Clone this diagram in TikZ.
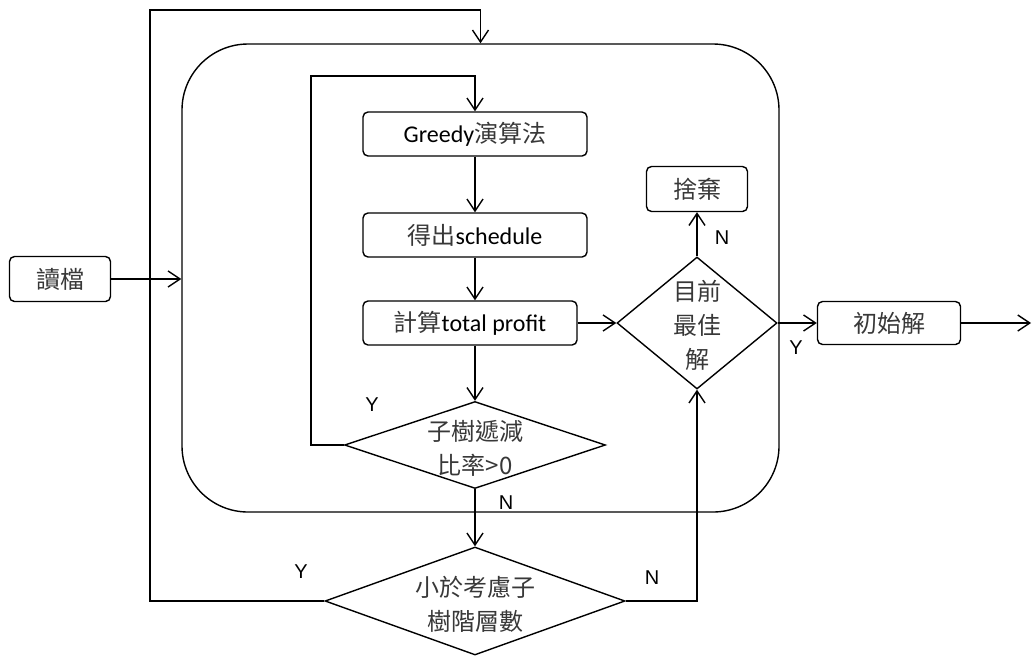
\documentclass[tikz,border=0pt]{standalone}
\usepackage{fontspec}
\setmainfont{Carlito}
\newfontfamily\cjk{Noto Sans CJK TC}
\newfontfamily\lab{Liberation Sans}
\usetikzlibrary{arrows.meta,shapes.geometric}
\newcommand\zh[1]{{\cjk\color{black!78}#1}}
\begin{document}
\begin{tikzpicture}[x=1pt,y=-1pt,
  line width=1.4pt,
  arr/.style={-{Straight Barb[length=12pt,width=16pt,line width=1.4pt]}},
  box/.style={draw, rounded corners=5pt, inner sep=0pt, font=\fontsize{24}{34}\selectfont},
  dia/.style={draw, diamond, inner sep=0pt},
  txt/.style={align=center, font=\fontsize{24}{34}\selectfont, inner sep=0pt},
  lbl/.style={font=\lab\fontsize{20}{24}\selectfont, inner sep=0pt}]
\useasboundingbox (0,0) rectangle (1032,657);

\node[draw, rounded corners=66pt, minimum width=597pt, minimum height=468pt, inner sep=0pt] (big) at (480.5,278) {};

\node[box, minimum width=224pt, minimum height=44pt] (greedy) at (475,134) {Greedy\zh{演算法}};
\node[box, minimum width=224pt, minimum height=44pt] (sched) at (475,235) {\zh{得出}schedule};
\node[box, minimum width=214pt, minimum height=44pt] (calc) at (470,323) {\zh{計算}total profit};

\node[dia, minimum width=261pt, minimum height=87pt] (d1) at (475,445) {};
\node[txt] (t1) at (475,448) {\zh{子樹遞減}\\\zh{比率>0}};
\node[dia, minimum width=300pt, minimum height=108pt] (d2) at (475,601) {};
\node[txt] (t2) at (475,604) {\zh{小於考慮子}\\\zh{樹階層數}};
\node[dia, minimum width=160pt, minimum height=132pt] (best) at (697,323) {};
\node[txt] (t3) at (697,325) {\zh{目前}\\\zh{最佳}\\\zh{解}};

\node[box, minimum width=101pt, minimum height=45pt] (disc) at (697,189) {\zh{捨棄}};
\node[box, minimum width=143pt, minimum height=43pt] (init) at (889,323) {\zh{初始解}};
\node[box, minimum width=101pt, minimum height=45pt] (read) at (60,279) {\zh{讀檔}};

\coordinate (o1) at (150,10);
\coordinate (i1) at (311,76);
\coordinate (out) at (1031,323);

% connectors
\draw[arr] (greedy) -- (sched);
\draw[arr] (sched) -- (sched |- calc.north);
\draw[arr] (calc.south -| d1.north) -- (d1.north);
\draw[arr] (d1.south) -- (d2.north);
\draw[arr] (d1.west) -| (i1) -| (greedy.north);
\draw[arr] (d2.west) -| (o1) -| (big.north);
\draw[arr] (d2.east) -| (best.south);
\draw[arr] (calc.east) -- (best.west);
\draw[arr] (best.north) -- (disc.south);
\draw[arr] (best.east) -- (init.west);
\draw[arr] (init.east) -- (out);
\draw[arr] (read.east) -- (big.west |- read.east);

% labels
\node[lbl] (ly1) at (372,405) {Y};
\node[lbl] (ln1) at (506,503) {N};
\node[lbl] (ly2) at (301,572) {Y};
\node[lbl] (ln2) at (652,578) {N};
\node[lbl] (ln3) at (722,238) {N};
\node[lbl] (ly3) at (796,348) {Y};
\end{tikzpicture}
\end{document}
